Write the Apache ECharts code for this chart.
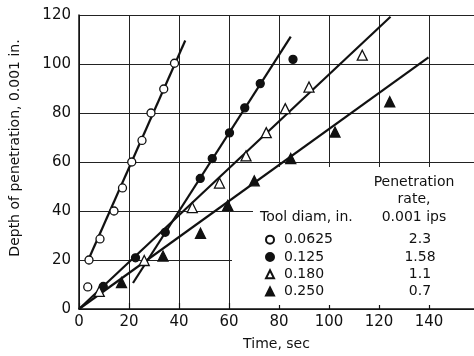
<!DOCTYPE html>
<html>
<head>
<meta charset="utf-8">
<script src="https://cdn.jsdelivr.net/npm/echarts@6/dist/echarts.min.js"></script>
<style>
  html, body { margin: 0; padding: 0; background: #fff; }
  #chart { width: 474px; height: 356px; }
</style>
</head>
<body>
<div id="chart"></div>
<script>
// ---- Data (time in sec, depth in 0.001 in.) ----
const toolDiams = ['0.0625', '0.125', '0.180', '0.250'];
const penetrationRates = ['2.3', '1.58', '1.1', '0.7'];

const pts0625 = [[3.5, 9], [4, 20], [8.4, 28.6], [14, 40], [17.4, 49.4], [21.1, 60], [25.2, 68.8], [28.8, 80], [33.9, 89.8], [38.2, 100.3]];
const pts125  = [[9.7, 9.2], [22.6, 20.9], [34.5, 31.3], [48.5, 53.3], [53.3, 61.4], [60.2, 71.9], [66.3, 82.1], [72.5, 92], [85.6, 101.9]];
const pts180  = [[8.1, 7.2], [26.1, 19.8], [45.3, 41.4], [56.2, 51.4], [66.8, 62.5], [74.9, 72], [82.5, 81.8], [92, 90.6], [113.3, 103.6]];
const pts250  = [[17, 10.8], [33.6, 21.6], [48.6, 30.9], [59.5, 42.3], [70.1, 52.3], [84.7, 61.4], [102.4, 72.2], [124.3, 84.6]];

// fitted straight lines (end points as drawn)
const fit0625 = [[3.7, 20], [42.5, 109.6]];
const fit125  = [[21.6, 10.6], [84.7, 111.2]];
const fit180  = [[0, 0], [124.6, 119.3]];
const fit250  = [[0, 0], [139.8, 102.7]];

const xTicks = [0, 20, 40, 60, 80, 100, 120, 140];
const yTicks = [0, 20, 40, 60, 80, 100, 120];

// ---- Chart ----
const FONT = '"DejaVu Sans", sans-serif';
const INK = '#111';
const chart = echarts.init(document.getElementById('chart'), null, { renderer: 'canvas' });

function scatter(name, data, symbol, filled, size) {
  return {
    name: name, type: 'scatter', data: data, symbol: symbol, symbolSize: size, z: 4,
    itemStyle: { color: filled ? INK : '#fff', borderColor: INK, borderWidth: 1.3, opacity: 1 },
    emphasis: { disabled: true }
  };
}
function fitLine(data) {
  return {
    type: 'line', data: data, symbol: 'none', z: 3, silent: true,
    lineStyle: { color: INK, width: 2.2 }, emphasis: { disabled: true }
  };
}

const option = {
  backgroundColor: '#fff',
  animation: false,
  textStyle: { fontFamily: FONT },
  grid: { left: 79, top: 15, right: 0, bottom: 43, containLabel: false },
  xAxis: {
    type: 'value', min: 0, max: 158, interval: 20,
    name: 'Time, sec', nameLocation: 'middle', nameGap: 28,
    nameTextStyle: { fontFamily: FONT, fontSize: 14, color: INK },
    axisLine: { show: true, lineStyle: { color: INK, width: 1.5 } },
    axisTick: { show: true, inside: true, length: 6, lineStyle: { color: INK, width: 1.2 } },
    axisLabel: {
      margin: 6, fontFamily: FONT, fontSize: 15, color: INK, showMaxLabel: false,
      formatter: v => (xTicks.indexOf(v) >= 0 ? String(v) : '')
    },
    splitLine: { show: true, lineStyle: { color: '#222', width: 1 } }
  },
  yAxis: {
    type: 'value', min: 0, max: 120, interval: 20,
    axisLine: { show: true, lineStyle: { color: INK, width: 1.5 } },
    axisTick: { show: false },
    axisLabel: {
      margin: 8, fontFamily: FONT, fontSize: 15, color: INK,
      formatter: v => (yTicks.indexOf(v) >= 0 ? String(v) : '')
    },
    splitLine: { show: true, lineStyle: { color: '#222', width: 1 } }
  },
  legend: {
    left: 260, top: 226, orient: 'vertical', itemWidth: 8, itemHeight: 8, itemGap: 0,
    selectedMode: false,
    data: [
      { name: toolDiams[0], icon: 'circle' },
      { name: toolDiams[1], icon: 'circle' },
      { name: toolDiams[2], icon: 'triangle' },
      { name: toolDiams[3], icon: 'triangle' }
    ],
    formatter: function (name) {
      const i = toolDiams.indexOf(name);
      return '{s|}{a|' + name + '}{b|' + penetrationRates[i] + '}';
    },
    textStyle: {
      fontFamily: FONT, fontSize: 14, color: INK, lineHeight: 17.3,
      rich: {
        s: { width: 5, fontSize: 14, lineHeight: 17.3 },
        a: { width: 110, fontSize: 14, fontFamily: FONT, color: INK, lineHeight: 17.3 },
        b: { width: 52, align: 'center', fontSize: 14, fontFamily: FONT, color: INK, lineHeight: 17.3 }
      }
    }
  },
  graphic: {
    elements: [
      { type: 'rect', z: 1, silent: true, shape: { x: 253, y: 167, width: 230, height: 138 }, style: { fill: '#fff' } },
      { type: 'rect', z: 1, silent: true, shape: { x: 232, y: 216, width: 22, height: 89 }, style: { fill: '#fff' } },
      { type: 'text', z: 5, x: 15, y: 148, rotation: Math.PI / 2,
        style: { text: 'Depth of penetration, 0.001 in.', fontFamily: FONT, fontSize: 14, fill: INK, align: 'center', verticalAlign: 'middle' } },
      { type: 'text', z: 5, x: 260, y: 217,
        style: { text: 'Tool diam, in.', fontFamily: FONT, fontSize: 14, fill: INK, align: 'left', verticalAlign: 'middle' } },
      { type: 'text', z: 5, x: 414, y: 182,
        style: { text: 'Penetration', fontFamily: FONT, fontSize: 14, fill: INK, align: 'center', verticalAlign: 'middle' } },
      { type: 'text', z: 5, x: 414, y: 199,
        style: { text: 'rate,', fontFamily: FONT, fontSize: 14, fill: INK, align: 'center', verticalAlign: 'middle' } },
      { type: 'text', z: 5, x: 414, y: 217,
        style: { text: '0.001 ips', fontFamily: FONT, fontSize: 14, fill: INK, align: 'center', verticalAlign: 'middle' } }
    ]
  },
  series: [
    fitLine(fit0625), fitLine(fit125), fitLine(fit180), fitLine(fit250),
    scatter(toolDiams[0], pts0625, 'circle', false, 8),
    scatter(toolDiams[1], pts125, 'circle', true, 8),
    scatter(toolDiams[2], pts180, 'triangle', false, 10),
    scatter(toolDiams[3], pts250, 'triangle', true, 10)
  ]
};
chart.setOption(option);
</script>
</body>
</html>
